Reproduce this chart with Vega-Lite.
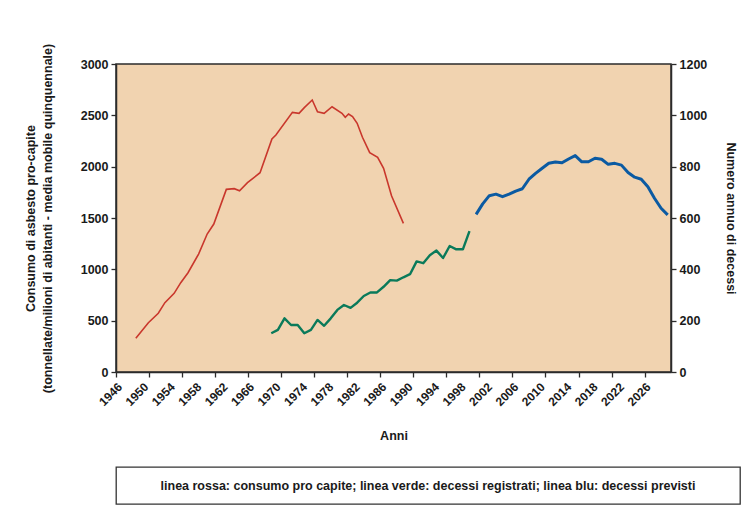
{
  "$schema": "https://vega.github.io/schema/vega-lite/v6.json",
  "background": "white",
  "padding": {"left": 23, "top": 42, "right": 5, "bottom": 5},
  "spacing": 23,
  "config": {
    "font": "Liberation Sans",
    "axis": {
      "grid": false,
      "labelFont": "Liberation Sans",
      "labelFontWeight": "bold",
      "labelFontSize": 12.5,
      "labelColor": "#1a1a1a",
      "titleFont": "Liberation Sans",
      "titleFontWeight": "bold",
      "titleFontSize": 12.5,
      "titleColor": "#1a1a1a",
      "domainColor": "#2b2b2b",
      "domainWidth": 1.5,
      "tickColor": "#2b2b2b",
      "tickWidth": 1.3,
      "tickSize": 5,
      "labelPadding": 3,
      "format": "d"
    }
  },
  "vconcat": [
    {
      "width": 555,
      "height": 308,
      "view": {"fill": "#F1D3B0", "stroke": "#2b2b2b", "strokeWidth": 1.5},
      "layer": [
        {
          "data": {
            "values": [
              {"anno": 1948.5, "consumo": 328},
              {"anno": 1950.4, "consumo": 480},
              {"anno": 1951.9, "consumo": 572},
              {"anno": 1952.9, "consumo": 675},
              {"anno": 1954.3, "consumo": 766},
              {"anno": 1955.3, "consumo": 870},
              {"anno": 1956.4, "consumo": 967},
              {"anno": 1958.0, "consumo": 1149},
              {"anno": 1959.3, "consumo": 1344},
              {"anno": 1960.3, "consumo": 1441},
              {"anno": 1962.2, "consumo": 1779},
              {"anno": 1963.4, "consumo": 1786},
              {"anno": 1964.2, "consumo": 1766},
              {"anno": 1965.4, "consumo": 1844},
              {"anno": 1967.3, "consumo": 1941},
              {"anno": 1969.1, "consumo": 2269},
              {"anno": 1969.7, "consumo": 2308},
              {"anno": 1972.2, "consumo": 2529},
              {"anno": 1973.2, "consumo": 2520},
              {"anno": 1974.0, "consumo": 2575},
              {"anno": 1975.2, "consumo": 2649},
              {"anno": 1976.0, "consumo": 2535},
              {"anno": 1977.0, "consumo": 2520},
              {"anno": 1978.2, "consumo": 2584},
              {"anno": 1979.7, "consumo": 2520},
              {"anno": 1980.2, "consumo": 2481},
              {"anno": 1980.7, "consumo": 2513},
              {"anno": 1981.3, "consumo": 2487},
              {"anno": 1982.0, "consumo": 2422},
              {"anno": 1982.8, "consumo": 2286},
              {"anno": 1983.9, "consumo": 2136},
              {"anno": 1985.1, "consumo": 2091},
              {"anno": 1986.0, "consumo": 1984},
              {"anno": 1987.2, "consumo": 1717},
              {"anno": 1989.0, "consumo": 1448}
            ]
          },
          "mark": {"type": "line", "color": "#C9372C", "strokeWidth": 1.6},
          "encoding": {
            "x": {
              "field": "anno",
              "type": "quantitative",
              "scale": {"domain": [1945.5, 2029.5], "nice": false, "zero": false},
              "axis": {
                "values": [1945.5, 1949.5, 1953.5, 1957.5, 1961.5, 1965.5, 1969.5, 1973.5, 1977.5, 1981.5, 1985.5, 1989.5, 1993.5, 1997.5, 2001.5, 2005.5, 2009.5, 2013.5, 2017.5, 2021.5, 2025.5],
                "labelExpr": "format(datum.value + 0.5, 'd')",
                "labelAngle": -45,
                "labelPadding": 9,
                "labelOverlap": false,
                "labelFontSize": 12,
                "ticks": false,
                "title": "Anni",
                "titlePadding": 22
              }
            },
            "y": {
              "field": "consumo",
              "type": "quantitative",
              "scale": {"domain": [0, 3000], "nice": false},
              "axis": {
                "orient": "left",
                "values": [0, 500, 1000, 1500, 2000, 2500, 3000],
                "title": ["Consumo di asbesto pro-capite", "(tonnellate/milioni di abitanti - media mobile quinquennale)"],
                "titlePadding": 26,
                "titleLineHeight": 17
              }
            }
          }
        },
        {
          "data": {
            "values": [
              {"anno": 1969, "decessi": 151, "serie": "registrati"},
              {"anno": 1970, "decessi": 164, "serie": "registrati"},
              {"anno": 1971, "decessi": 209, "serie": "registrati"},
              {"anno": 1972, "decessi": 183, "serie": "registrati"},
              {"anno": 1973, "decessi": 183, "serie": "registrati"},
              {"anno": 1974, "decessi": 151, "serie": "registrati"},
              {"anno": 1975, "decessi": 164, "serie": "registrati"},
              {"anno": 1976, "decessi": 203, "serie": "registrati"},
              {"anno": 1977, "decessi": 180, "serie": "registrati"},
              {"anno": 1978, "decessi": 209, "serie": "registrati"},
              {"anno": 1979, "decessi": 242, "serie": "registrati"},
              {"anno": 1980, "decessi": 261, "serie": "registrati"},
              {"anno": 1981, "decessi": 250, "serie": "registrati"},
              {"anno": 1982, "decessi": 270, "serie": "registrati"},
              {"anno": 1983, "decessi": 296, "serie": "registrati"},
              {"anno": 1984, "decessi": 310, "serie": "registrati"},
              {"anno": 1985, "decessi": 310, "serie": "registrati"},
              {"anno": 1986, "decessi": 332, "serie": "registrati"},
              {"anno": 1987, "decessi": 358, "serie": "registrati"},
              {"anno": 1988, "decessi": 356, "serie": "registrati"},
              {"anno": 1989, "decessi": 369, "serie": "registrati"},
              {"anno": 1990, "decessi": 381, "serie": "registrati"},
              {"anno": 1991, "decessi": 431, "serie": "registrati"},
              {"anno": 1992, "decessi": 424, "serie": "registrati"},
              {"anno": 1993, "decessi": 455, "serie": "registrati"},
              {"anno": 1994, "decessi": 473, "serie": "registrati"},
              {"anno": 1995, "decessi": 444, "serie": "registrati"},
              {"anno": 1996, "decessi": 491, "serie": "registrati"},
              {"anno": 1997, "decessi": 478, "serie": "registrati"},
              {"anno": 1998, "decessi": 478, "serie": "registrati"},
              {"anno": 1999, "decessi": 549, "serie": "registrati"},
              {"anno": 2000, "decessi": 614, "serie": "previsti"},
              {"anno": 2001, "decessi": 655, "serie": "previsti"},
              {"anno": 2002, "decessi": 687, "serie": "previsti"},
              {"anno": 2003, "decessi": 693, "serie": "previsti"},
              {"anno": 2004, "decessi": 683, "serie": "previsti"},
              {"anno": 2005, "decessi": 693, "serie": "previsti"},
              {"anno": 2006, "decessi": 705, "serie": "previsti"},
              {"anno": 2007, "decessi": 714, "serie": "previsti"},
              {"anno": 2008, "decessi": 751, "serie": "previsti"},
              {"anno": 2009, "decessi": 774, "serie": "previsti"},
              {"anno": 2010, "decessi": 794, "serie": "previsti"},
              {"anno": 2011, "decessi": 813, "serie": "previsti"},
              {"anno": 2012, "decessi": 818, "serie": "previsti"},
              {"anno": 2013, "decessi": 815, "serie": "previsti"},
              {"anno": 2014, "decessi": 830, "serie": "previsti"},
              {"anno": 2015, "decessi": 843, "serie": "previsti"},
              {"anno": 2016, "decessi": 819, "serie": "previsti"},
              {"anno": 2017, "decessi": 819, "serie": "previsti"},
              {"anno": 2018, "decessi": 833, "serie": "previsti"},
              {"anno": 2019, "decessi": 829, "serie": "previsti"},
              {"anno": 2020, "decessi": 809, "serie": "previsti"},
              {"anno": 2021, "decessi": 813, "serie": "previsti"},
              {"anno": 2022, "decessi": 806, "serie": "previsti"},
              {"anno": 2023, "decessi": 777, "serie": "previsti"},
              {"anno": 2024, "decessi": 759, "serie": "previsti"},
              {"anno": 2025, "decessi": 751, "serie": "previsti"},
              {"anno": 2026, "decessi": 722, "serie": "previsti"},
              {"anno": 2027, "decessi": 677, "serie": "previsti"},
              {"anno": 2028, "decessi": 638, "serie": "previsti"},
              {"anno": 2029, "decessi": 612, "serie": "previsti"}
            ]
          },
          "mark": {"type": "line", "strokeJoin": "round"},
          "encoding": {
            "x": {
              "field": "anno",
              "type": "quantitative",
              "axis": {
                "orient": "bottom",
                "values": [1945.5, 1950.5, 1955.5, 1960.5, 1965.5, 1970.5, 1975.5, 1980.5, 1985.5, 1990.5, 1995.5, 2000.5, 2005.5, 2010.5, 2015.5, 2020.5, 2025.5],
                "labels": false,
                "domain": false,
                "ticks": true,
                "title": null
              }
            },
            "y": {
              "field": "decessi",
              "type": "quantitative",
              "scale": {"domain": [0, 1200], "nice": false},
              "axis": {
                "orient": "right",
                "values": [0, 200, 400, 600, 800, 1000, 1200],
                "title": "Numero annuo di decessi",
                "titlePadding": 17
              }
            },
            "color": {
              "field": "serie",
              "type": "nominal",
              "scale": {"domain": ["registrati", "previsti"], "range": ["#0A7A5A", "#0B5AA2"]},
              "legend": null
            },
            "strokeWidth": {
              "field": "serie",
              "type": "nominal",
              "scale": {"domain": ["registrati", "previsti"], "range": [2.4, 3]},
              "legend": null
            }
          }
        }
      ],
      "resolve": {"scale": {"y": "independent"}, "axis": {"x": "independent"}}
    },
    {
      "width": 624,
      "height": 37,
      "view": {"fill": "white", "stroke": "#333333", "strokeWidth": 1.3},
      "data": {"values": [{"testo": "linea rossa: consumo pro capite; linea verde: decessi registrati; linea blu: decessi previsti"}]},
      "mark": {"type": "text", "font": "Liberation Sans", "fontWeight": "bold", "fontSize": 12.5, "color": "#1a1a1a", "align": "center", "baseline": "middle"},
      "encoding": {"text": {"field": "testo", "type": "nominal"}}
    }
  ]
}
